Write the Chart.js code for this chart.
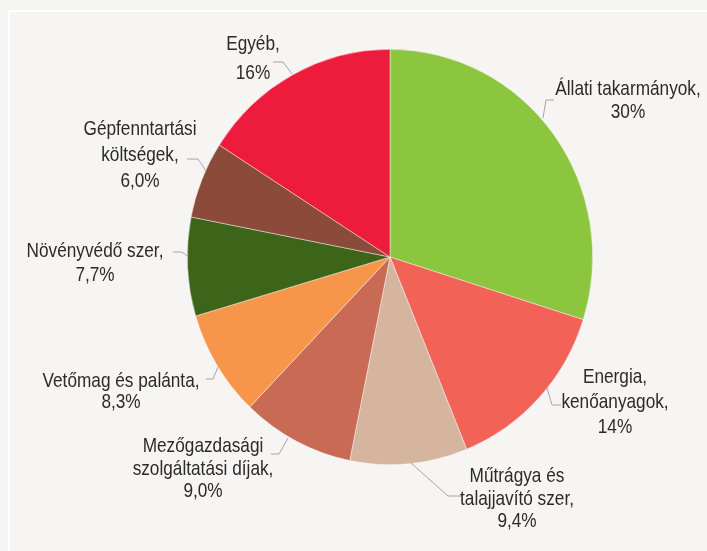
<!DOCTYPE html>
<html>
<head>
<meta charset="utf-8">
<script src="https://cdn.jsdelivr.net/npm/chart.js@4/dist/chart.umd.min.js"></script>
<style>
  html, body { margin: 0; padding: 0; background: #f6f5f4; }
  #wrap { width: 707px; height: 551px; position: relative; }
  canvas { display: block; }
</style>
</head>
<body>
<div id="wrap"><canvas id="c" width="707" height="551"></canvas></div>
<script>
// ---- data ----
const categories = [
  ['Állati takarmányok,'],
  ['Energia,', 'kenőanyagok,'],
  ['Műtrágya és', 'talajjavító szer,'],
  ['Mezőgazdasági', 'szolgáltatási díjak,'],
  ['Vetőmag és palánta,'],
  ['Növényvédő szer,'],
  ['Gépfenntartási', 'költségek,'],
  ['Egyéb,']
];
const shares = [30, 14, 9.4, 9.0, 8.3, 7.7, 6.0, 16];
const shareLabels = ['30%', '14%', '9,4%', '9,0%', '8,3%', '7,7%', '6,0%', '16%'];

// ---- styles ----
const sliceColors = ['#8cc63f', '#f26257', '#d5b59e', '#c96a55', '#f7964a', '#3d6519', '#8c4a3b', '#ed1b3c'];
// label block: [text centre dx, first baseline dy, line height] relative to pie centre
const labelLayout = [
  [238, -162, 23],
  [225, 126, 25],
  [127, 225, 22.5],
  [-187, 195, 22.5],
  [-269, 130, 21],
  [-295, 0, 23.5],
  [-250, -122, 26],
  [-137, -207, 29]
];
// leader polylines relative to pie centre
const leaderLayout = [
  [[153, -139], [156, -157], [164, -157]],
  [[157, 131], [162, 148], [171, 148]],
  [[21, 206], [58, 239], [72, 239]],
  [[-102, 181], [-111, 197], [-119, 197]],
  [[-172, 110], [-177, 122], [-184, 122]],
  [[-203, -1], [-208, -5], [-217, -5]],
  [[-184, -86], [-192, -98], [-203, -98]],
  [[-98, -183], [-107, -195], [-117, -195]]
];
const yStretch = 208 / 203;

const framePlugin = {
  id: 'frame',
  beforeDraw(chart) {
    const ctx = chart.ctx;
    ctx.save();
    ctx.fillStyle = '#f6f5f4';
    ctx.fillRect(0, 0, chart.width, chart.height);
    ctx.fillStyle = '#ffffff';
    ctx.fillRect(8, 10, chart.width - 8, 2);
    ctx.fillRect(8, 10, 2, chart.height - 10);
    ctx.restore();
  }
};

const stretchPlugin = {
  id: 'stretch',
  beforeDatasetsDraw(chart) {
    const arc = chart.getDatasetMeta(0).data[0];
    const ctx = chart.ctx;
    ctx.save();
    ctx.translate(arc.x, arc.y);
    ctx.scale(1, yStretch);
    ctx.translate(-arc.x, -arc.y);
  },
  afterDatasetsDraw(chart) {
    chart.ctx.restore();
  }
};

const labelPlugin = {
  id: 'pieLabels',
  afterDraw(chart) {
    const meta = chart.getDatasetMeta(0);
    const cx = meta.data[0].x, cy = meta.data[0].y;
    const ctx = chart.ctx;
    ctx.save();
    // leaders
    ctx.strokeStyle = '#a6a6a6';
    ctx.lineWidth = 1;
    leaderLayout.forEach(pts => {
      ctx.beginPath();
      pts.forEach((p, i) => {
        const x = cx + p[0], y = cy + p[1];
        if (i === 0) ctx.moveTo(x, y); else ctx.lineTo(x, y);
      });
      ctx.stroke();
    });
    // text
    ctx.fillStyle = '#2b2b2b';
    ctx.font = '21px "Liberation Sans", Arial, sans-serif';
    ctx.textAlign = 'center';
    ctx.textBaseline = 'alphabetic';
    const sx = 0.82;
    categories.forEach((lines, i) => {
      const [dx, dy, lh] = labelLayout[i];
      const all = lines.concat([shareLabels[i]]);
      all.forEach((t, j) => {
        const x = cx + dx, y = cy + dy + j * lh;
        ctx.save();
        ctx.translate(x, y);
        ctx.scale(sx, 1);
        ctx.fillText(t, 0, 0);
        ctx.restore();
      });
    });
    ctx.restore();
  }
};

new Chart(document.getElementById('c'), {
  type: 'pie',
  data: {
    labels: categories.map(l => l.join(' ')),
    datasets: [{
      data: shares,
      backgroundColor: sliceColors,
      borderColor: 'rgba(255,255,255,0.7)',
      borderWidth: 0.6,
      clip: false
    }]
  },
  options: {
    responsive: false,
    animation: false,
    events: [],
    layout: { padding: { top: 54, bottom: 91, left: 187, right: 114 } },
    plugins: {
      legend: { display: false },
      tooltip: { enabled: false }
    }
  },
  plugins: [framePlugin, stretchPlugin, labelPlugin]
});
</script>
</body>
</html>
